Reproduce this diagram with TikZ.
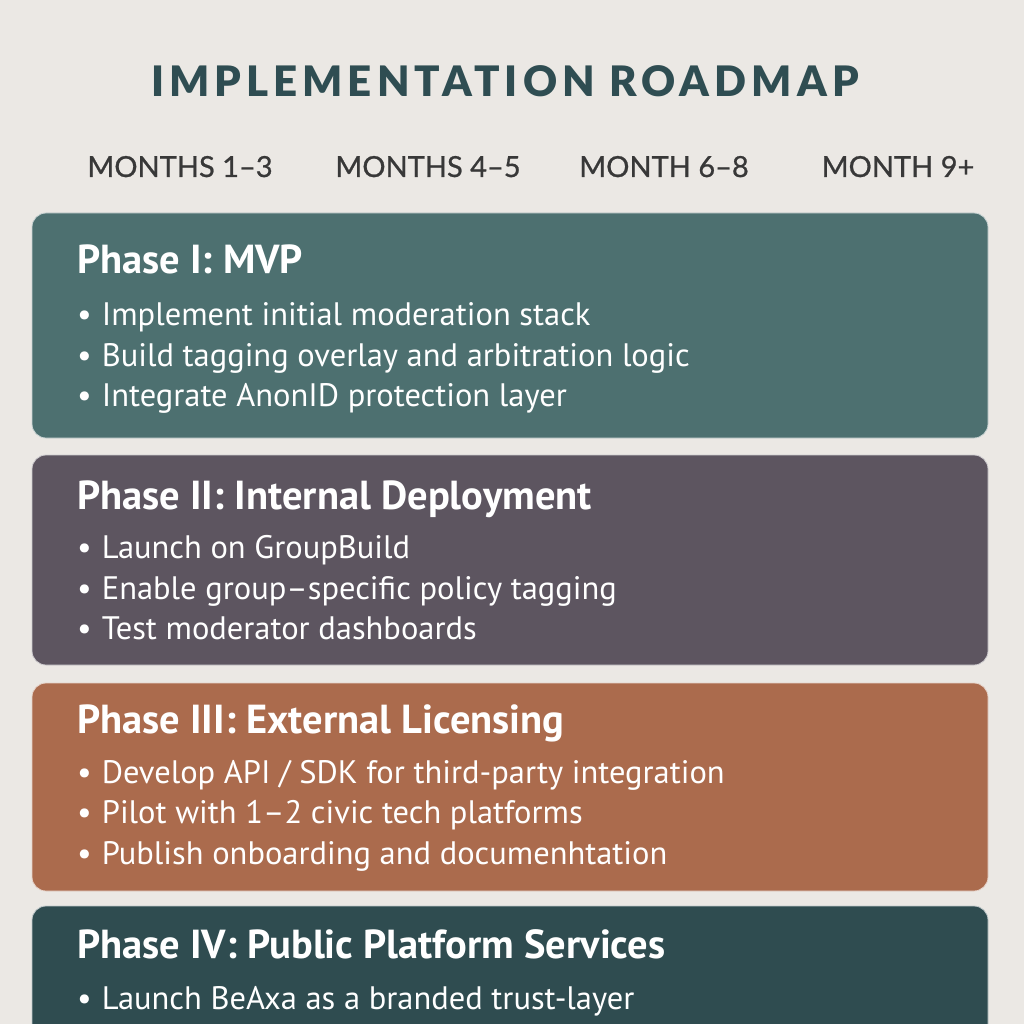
\documentclass[tikz,border=0pt]{standalone}
\usepackage{fontspec}
\setmainfont{PT Sans}
\newfontfamily\headfont[LetterSpace=12]{Lato Black}
\newfontfamily\monthfont[FakeBold=0.8]{Lato}
\definecolor{paper}{HTML}{EBE8E4}
\definecolor{titleink}{HTML}{2F4D52}
\definecolor{monthink}{HTML}{383838}
\definecolor{phaseA}{HTML}{4D7070}
\definecolor{phaseB}{HTML}{5D5560}
\definecolor{phaseC}{HTML}{AB6B4D}
\definecolor{phaseD}{HTML}{2F4C50}
\begin{document}
\begin{tikzpicture}[x=1pt,y=-1pt,
  card/.style={rounded corners=14pt, draw=white!70!#1, line width=0.8pt, fill=#1},
  phasetitle/.style={anchor=base west, inner sep=0pt, text=white, font=\fontsize{40.5}{44}\selectfont\bfseries},
  item/.style={anchor=base west, inner sep=0pt, text=white, font=\fontsize{32.5}{36}\selectfont},
  month/.style={anchor=base, inner sep=0pt, text=monthink, font=\monthfont\fontsize{29}{32}\selectfont}]
\useasboundingbox (0,0) rectangle (1024,1024);
\fill[paper] (0,0) rectangle (1024,1024);
\begin{scope}
\clip (0,0) rectangle (1024,1024);
% heading and timeline labels
\node[anchor=base, inner sep=0pt, text=titleink, font=\headfont\fontsize{42}{46}\selectfont] (title) at (505,97) {IMPLEMENTATION ROADMAP};
\node[month] (m1) at (180,177) {MONTHS 1–3};
\node[month] (m2) at (428,177) {MONTHS 4–5};
\node[month] (m3) at (664,177) {MONTH 6–8};
\node[month] (m4) at (898,177) {MONTH 9+};
% phase cards
\path[card=phaseA] (32,213) rectangle (988,438);
\path[card=phaseB] (32,455) rectangle (988,665);
\path[card=phaseC] (32,683) rectangle (988,891);
\path[card=phaseD] (32,906) rectangle (988,1060);
% Phase I
\node[phasetitle] (p1) at (77,273) {Phase I: MVP};
\node[item] (p1a) at (77,325) {•\hspace{10pt}Implement initial moderation stack};
\node[item] (p1b) at (77,366) {•\hspace{10pt}Build tagging overlay and arbitration logic};
\node[item] (p1c) at (77,406) {•\hspace{10pt}Integrate AnonID protection layer};
% Phase II
\node[phasetitle] (p2) at (77,509) {Phase II: Internal Deployment};
\node[item] (p2a) at (77,558) {•\hspace{10pt}Launch on GroupBuild};
\node[item] (p2b) at (77,599) {•\hspace{10pt}Enable group–specific policy tagging};
\node[item] (p2c) at (77,639) {•\hspace{10pt}Test moderator dashboards};
% Phase III
\node[phasetitle] (p3) at (77,733) {Phase III: External Licensing};
\node[item] (p3a) at (77,783) {•\hspace{10pt}Develop API / SDK for third-party integration};
\node[item] (p3b) at (77,823) {•\hspace{10pt}Pilot with 1–2 civic tech platforms};
\node[item] (p3c) at (77,864) {•\hspace{10pt}Publish onboarding and documenhtation};
% Phase IV
\node[phasetitle] (p4) at (77,958) {Phase IV: Public Platform Services};
\node[item] (p4a) at (77,1009) {•\hspace{10pt}Launch BeAxa as a branded trust-layer};
\end{scope}
\end{tikzpicture}
\end{document}
